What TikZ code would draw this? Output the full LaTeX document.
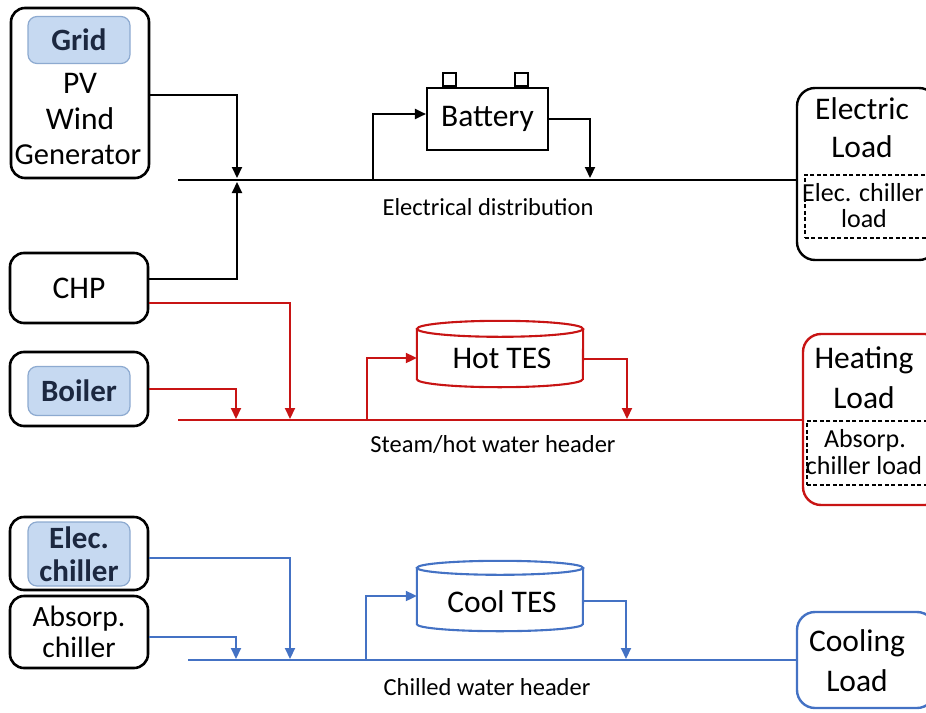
\documentclass[tikz,border=0pt]{standalone}
\usepackage{fontspec}
\setmainfont{Carlito}
\usetikzlibrary{arrows.meta}
\definecolor{hotred}{RGB}{200,20,20}
\definecolor{coolblue}{RGB}{68,114,196}
\definecolor{keyfill}{RGB}{198,217,241}
\definecolor{keyedge}{RGB}{141,170,208}
\definecolor{keytext}{RGB}{28,40,64}
\begin{document}
\begin{tikzpicture}[x=1pt,y=-1pt,
  big/.style={font=\fontsize{31.5}{36}\selectfont, inner sep=0pt},
  small/.style={font=\fontsize{26}{30}\selectfont, inner sep=0pt},
  lbl/.style={font=\fontsize{24.5}{28}\selectfont, inner sep=0pt},
  src/.style={draw, line width=2.6pt, rounded corners=14pt, minimum width=138pt},
  key/.style={draw=keyedge, fill=keyfill, line width=1.2pt, rounded corners=9pt,
    minimum width=102pt, text=keytext, align=center,
    font=\fontsize{31}{33}\selectfont\bfseries},
  load/.style={draw, line width=2.4pt, rounded corners=18pt, minimum width=140pt},
  part/.style={draw, line width=1.6pt, dash pattern=on 4pt off 2.5pt, anchor=north west},
  flow/.style={line width=2.1pt, -{Triangle[length=11pt,width=10pt]}},
  bus/.style={line width=2.1pt},
  tank/.style={line width=2.1pt}
]
\clip (0,0) rectangle (926,712);

% ---------------- electricity ----------------
\node[src, minimum height=170pt] (ren) at (80,93) {};
\node[key, minimum height=47pt] (grid) at (79,40) {Grid};
\node[big] (pv) at (80,83) {PV};
\node[big] (wind) at (80,119) {Wind};
\node[big, font=\fontsize{30.5}{34}\selectfont] (gen) at (78,155) {Generator};

\node[src, minimum height=70pt, big, inner sep=0pt] (chp) at (79,288) {CHP};

\node[draw, line width=2.1pt, minimum width=121pt, minimum height=62pt, big] (bat) at (487.5,119) {Battery};
\node[draw, line width=1.8pt, minimum size=13pt, inner sep=0pt, anchor=south] (tl) at ([xshift=-38pt]bat.north) {};
\node[draw, line width=1.8pt, minimum size=13pt, inner sep=0pt, anchor=south] (tr) at ([xshift=34pt]bat.north) {};

\node[load, minimum height=172pt] (eload) at (867,174) {};
\node[big] (el1) at (862,109) {Electric};
\node[big] (el2) at (862,147) {Load};
\node[part, minimum width=126pt, minimum height=63pt] (ech) at (804,174) {};
\node[small] (ech1) at (863,193) {Elec. chiller};
\node[small] (ech2) at (864,219) {load};

\coordinate (eS) at (178,180);
\coordinate (eAn) at (237,178);
\coordinate (eAs) at (237,182);
\coordinate (eB) at (373,180);
\coordinate (eC) at (590,178);
\draw[bus] (eS) -- (eS -| eload.west);
\draw[flow] ([yshift=-2pt]ren.east) -| (eAn);
\draw[flow] ([yshift=9pt]chp.east) -| (eAs);
\draw[flow] (eB) |- ([yshift=5pt]bat.west);
\draw[flow] (bat.east) -| (eC);
\node[lbl] (elab) at (488,207) {Electrical distribution};

% ---------------- heat ----------------
\node[src, minimum height=74pt] (boiler) at (79,389) {};
\node[key, minimum height=49pt] (boilkey) at (79,391) {Boiler};

\node[minimum width=166pt, minimum height=50pt, inner sep=0pt] (hot) at (500,354) {};
\draw[tank, hotred] (hot.north west) -- (hot.south west)
  arc[start angle=180, end angle=360, x radius=83pt, y radius=8pt] -- (hot.north east);
\draw[tank, hotred] (hot.north) ellipse[x radius=83pt, y radius=8pt];
\node[big] (hottxt) at (502,358) {Hot TES};

\node[load, draw=hotred, minimum height=171pt] (hload) at (873,419.5) {};
\node[big] (hl1) at (864,360) {Heating};
\node[big] (hl2) at (864,398) {Load};
\node[part, minimum width=126pt, minimum height=64pt] (ach) at (806,420) {};
\node[small] (ach1) at (865,441) {Absorp.};
\node[small] (ach2) at (864,466) {chiller load};

\coordinate (hS) at (178,420);
\coordinate (hA) at (236,419);
\coordinate (hB) at (290,419);
\coordinate (hC) at (367,420);
\coordinate (hD) at (627,419);
\draw[bus, hotred] (hS) -- (hS -| hload.west);
\draw[flow, hotred] ([yshift=-15pt]chp.east) -| (hB);
\draw[flow, hotred] (boiler.east) -| (hA);
\draw[flow, hotred] (hC) |- ([yshift=-4pt]hot.west);
\draw[flow, hotred] ([yshift=-5pt]hot.east) -| (hD);
\node[lbl] (hlab) at (493,445) {Steam/hot water header};

% ---------------- cooling ----------------
\node[src, minimum height=73pt] (echill) at (79,553.5) {};
\node[key, minimum height=64pt] (echkey) at (79,554) {Elec.\\chiller};
\node[src, minimum height=72pt, align=center, font=\fontsize{29.5}{31}\selectfont, inner sep=0pt] (achill) at (79,632) {Absorp.\\chiller};

\node[minimum width=166pt, minimum height=56pt, inner sep=0pt] (cool) at (500,596) {};
\draw[tank, coolblue] (cool.north west) -- (cool.south west)
  arc[start angle=180, end angle=360, x radius=83pt, y radius=7pt] -- (cool.north east);
\draw[tank, coolblue] (cool.north) ellipse[x radius=83pt, y radius=7pt];
\node[big] (cooltxt) at (502,602) {Cool TES};

\node[load, draw=coolblue, minimum height=96pt, minimum width=138pt] (cload) at (866,660) {};
\node[big] (cl1) at (857,643) {Cooling};
\node[big] (cl2) at (857,681) {Load};

\coordinate (cS) at (188,660);
\coordinate (cA) at (236,659);
\coordinate (cB) at (290,659);
\coordinate (cC) at (366,660);
\coordinate (cD) at (626,659);
\draw[bus, coolblue] (cS) -- (cS -| cload.west);
\draw[flow, coolblue] ([yshift=-4.5pt]echill.east) -| (cB);
\draw[flow, coolblue] ([yshift=-5pt]achill.east) -| (cA);
\draw[flow, coolblue] (cC) |- (cool.west);
\draw[flow, coolblue] ([yshift=-5pt]cool.east) -| (cD);
\node[lbl] (clab) at (487,687) {Chilled water header};
\end{tikzpicture}
\end{document}
